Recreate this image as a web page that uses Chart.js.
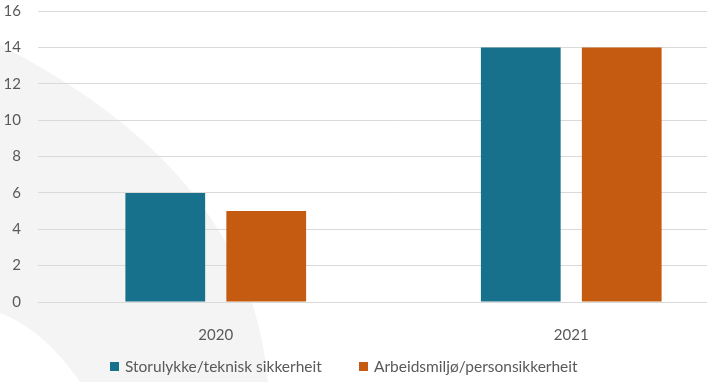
<!DOCTYPE html>
<html>
<head>
<meta charset="utf-8">
<script src="https://cdn.jsdelivr.net/npm/chart.js@4"></script>
<style>
  body { margin: 0; overflow: hidden; background: #fff; font-family: 'Lato', sans-serif; }
  #wrap { position: relative; width: 707px; height: 382px; overflow: hidden; }
  #chart { position: absolute; left: 0; top: 0; }
  .leg { position: absolute; top: 357px; display: flex; align-items: center; font-size: 15.5px; color: #595959; white-space: nowrap; }
  .leg i { display: inline-block; width: 9px; height: 9px; margin-right: 6px; }
</style>
</head>
<body>
<div id="wrap">
  <canvas id="chart" width="750" height="382"></canvas>
  <div class="leg" style="left:110px;"><i style="background:#18718c"></i>Storulykke/teknisk sikkerheit</div>
  <div class="leg" style="left:359px;"><i style="background:#c55a11"></i>Arbeidsmiljø/personsikkerheit</div>
</div>
<script>
const years = ['2020', '2021'];
const storulykke = [6, 14];
const arbeidsmiljo = [5, 14];
const seriesNames = ['Storulykke/teknisk sikkerheit', 'Arbeidsmiljø/personsikkerheit'];
const yTicks = [0, 2, 4, 6, 8, 10, 12, 14, 16];

// grå bue i bakgrunnen
const swoosh = {
  id: 'swoosh',
  beforeDraw(chart) {
    const ctx = chart.ctx;
    ctx.save();
    ctx.fillStyle = '#f4f4f4';
    ctx.beginPath();
    ctx.moveTo(0, 45);
    ctx.bezierCurveTo(155, 125, 255, 230, 268, 382);
    ctx.lineTo(80, 382);
    ctx.bezierCurveTo(55, 345, 25, 322, 0, 313);
    ctx.closePath();
    ctx.fill();
    ctx.restore();
  }
};

new Chart(document.getElementById('chart'), {
  type: 'bar',
  data: {
    labels: years,
    datasets: [
      { label: seriesNames[0], data: storulykke, backgroundColor: '#18718c' },
      { label: seriesNames[1], data: arbeidsmiljo, backgroundColor: '#c55a11' }
    ]
  },
  options: {
    responsive: false,
    animation: false,
    devicePixelRatio: 1,
    categoryPercentage: 0.568,
    barPercentage: 0.79,
    layout: { padding: { top: 11, right: 1, left: 0, bottom: 0 } },
    plugins: { legend: { display: false }, tooltip: { enabled: false } },
    scales: {
      x: {
        grid: { display: false },
        border: { display: false },
        ticks: { color: '#595959', font: { family: 'Lato', size: 15 }, padding: 16 },
        afterFit(s) { s.height = 80; }
      },
      y: {
        min: 0,
        max: 16,
        afterBuildTicks(s) { s.ticks = yTicks.map(v => ({ value: v })); },
        grid: { color: '#d9d9d9', drawTicks: false },
        border: { display: false },
        ticks: { color: '#595959', font: { family: 'Lato', size: 15 }, padding: 17 },
        afterFit(s) { s.width = 38; s.paddingTop = 0; s.paddingBottom = 0; }
      }
    }
  },
  plugins: [swoosh]
});
</script>
</body>
</html>
